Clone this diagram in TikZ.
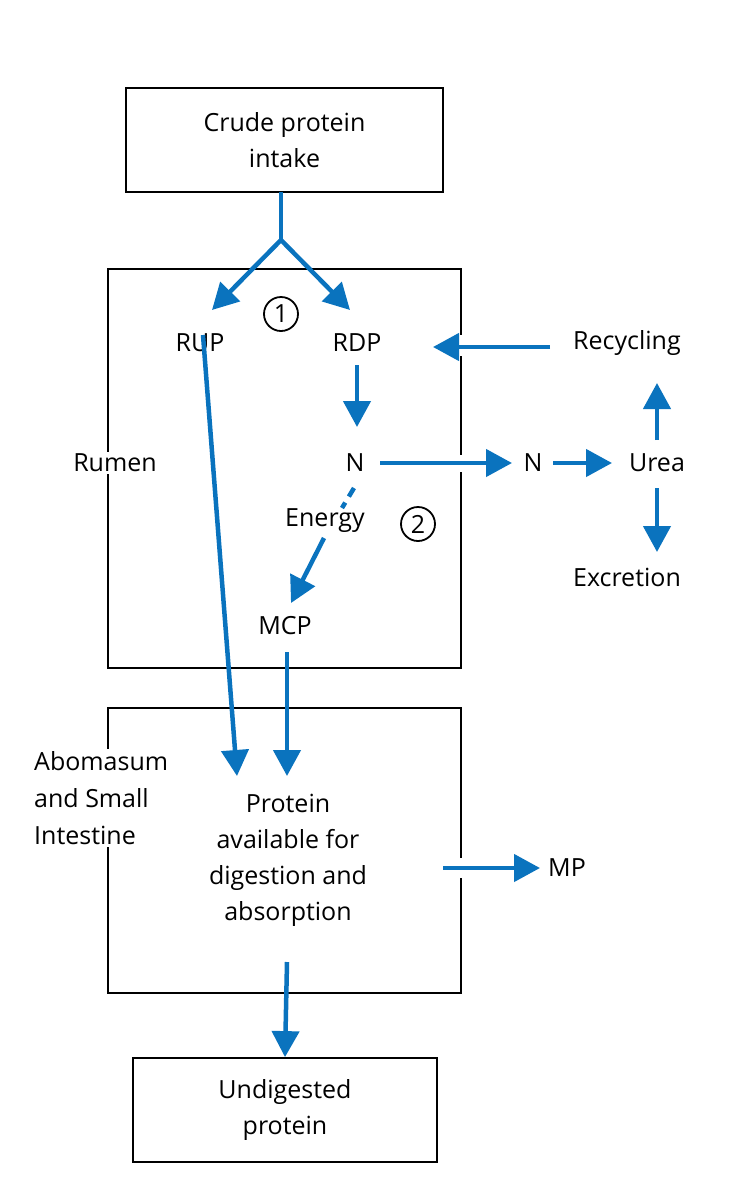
\documentclass[tikz,border=0pt]{standalone}
\usepackage{fontspec}
\setmainfont{Open Sans}
\usetikzlibrary{arrows.meta}
\definecolor{fblue}{RGB}{10,115,190}
\begin{document}
\begin{tikzpicture}[x=1pt,y=-1pt,
  lbl/.style={font=\fontsize{25}{36}\selectfont,align=center,inner sep=2pt},
  gap/.style={lbl,fill=white},
  arr/.style={draw=fblue,line width=4.5pt,-{Triangle[length=26pt,width=27pt]}},
  ln/.style={draw=fblue,line width=4.5pt},
  box/.style={draw,line width=1.8pt}]
\useasboundingbox (0,0) rectangle (736,1200);
\node[box,minimum width=317pt,minimum height=104pt,lbl] (cpi) at (284.5,140) {Crude protein\\intake};
\draw[box] (108,269) rectangle (461,668);
\draw[box] (108,708) rectangle (461,993);
\node[box,minimum width=304pt,minimum height=104pt,lbl] (und) at (285,1110) {Undigested\\protein};
\node[gap] (rumen) at (115,463) {Rumen};
\node[gap,align=left,anchor=west,font=\fontsize{25}{37}\selectfont] (abo) at (32,798) {Abomasum\\and Small\\Intestine};
\node[lbl] (rup) at (200,343) {RUP};
\node[lbl] (rdp) at (357,343) {RDP};
\node[lbl] (n1) at (355,463) {N};
\node[lbl] (n2) at (533,463) {N};
\node[lbl] (urea) at (657,463) {Urea};
\node[lbl] (rec) at (627,343) {Recycling};
\node[lbl] (exc) at (627,577) {Excretion};
\node[lbl] (en) at (325,521) {Energy};
\node[lbl] (mcp) at (285,626) {MCP};
\node[lbl] (prot) at (288,860) {Protein\\available for\\digestion and\\absorption};
\node[lbl] (mp) at (567,868) {MP};
\node[draw,circle,line width=1.8pt,minimum size=34pt,inner sep=0pt,lbl] (c1) at (281,314) {1};
\node[draw,circle,line width=1.8pt,minimum size=34pt,inner sep=0pt,lbl] (c2) at (418,524) {2};
\coordinate (top) at (281,192);
\coordinate (sp) at (281,240);
\fill[white] (455,335) rectangle (467,356);
\fill[white] (455,455) rectangle (467,472);
\fill[white] (455,858) rectangle (467,878);
\draw[ln] (top) -- (sp);
\draw[arr] (sp) -- (212,310);
\draw[arr] (sp) -- (350,310);
\draw[arr] (357,365) -- (357,427);
\draw[arr] (380,463) -- (512,463);
\draw[arr] (553,463) -- (612,463);
\draw[arr] (657,440) -- (657,383);
\draw[arr] (657,488) -- (657,552);
\draw[arr] (550,347) -- (433,347);
\draw[ln,dash pattern=on 10pt off 7pt] (354,488) -- (342,508);
\draw[arr] (324,538) -- (291,603);
\draw[arr] (203,335) -- (237,776);
\draw[arr] (287,652) -- (287,776);
\draw[arr] (443,868) -- (540,868);
\draw[arr] (287,962) -- (und.north);
\end{tikzpicture}
\end{document}
